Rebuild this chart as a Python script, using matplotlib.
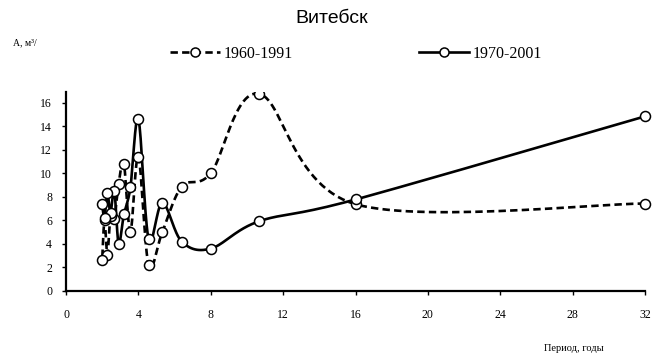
import matplotlib
matplotlib.use("Agg")
import matplotlib.pyplot as plt
import matplotlib.patches as mpatches
import numpy as np

# periods (years) and amplitudes
periods = [32, 16, 10.67, 8, 6.4, 5.33, 4.57, 4, 3.56, 3.2, 2.91, 2.67, 2.46, 2.29, 2.13, 2.0]
a_1960_1991 = [7.43, 7.37, 16.75, 10.0, 8.87, 5.04, 2.18, 11.4, 5.04, 10.8, 9.1, 6.1, 6.4, 3.06, 6.0, 2.63]
a_1970_2001 = [14.83, 7.77, 5.92, 3.6, 4.19, 7.5, 4.4, 14.6, 8.8, 6.5, 4.0, 8.5, 6.6, 8.36, 6.18, 7.39]

labels = ["1960-1991", "1970-2001"]
title = "Витебск"
x_label = "Период, годы"
y_label = "А, м³/"


def smooth(xs, ys, n=30):
    # bezier smoothing like a spreadsheet "smoothed line"
    p = np.column_stack([xs, ys]).astype(float)
    out = [p[0]]
    for i in range(len(p) - 1):
        p0 = p[i - 1] if i > 0 else p[i]
        p3 = p[i + 2] if i + 2 < len(p) else p[i + 1]
        c1 = p[i] + (p[i + 1] - p0) / 6
        c2 = p[i + 1] - (p3 - p[i]) / 6
        t = np.linspace(0, 1, n)[1:, None]
        seg = ((1 - t) ** 3 * p[i] + 3 * (1 - t) ** 2 * t * c1
               + 3 * (1 - t) * t ** 2 * c2 + t ** 3 * p[i + 1])
        out.extend(seg)
    out = np.array(out)
    return out[:, 0], out[:, 1]


fig = plt.figure(figsize=(6.66, 3.56), dpi=100)
ax = fig.add_axes([0.0991, 0.1826, 0.8694, 0.559])

clip = mpatches.Rectangle((-0.05, 0), 1.1, 1.0, transform=ax.transAxes,
                          fill=False, visible=False)
ax.add_patch(clip)

styles = [dict(dashes=(2.8, 1.6)), dict(linestyle="-")]
handles = []
for ys, st, lab in zip([a_1960_1991, a_1970_2001], styles, labels):
    sx, sy = smooth(periods, ys)
    line, = ax.plot(sx, sy, color="black", lw=1.9, **st)
    line.set_clip_path(clip)
    mk, = ax.plot(periods, ys, "o", ms=7.2, mfc="white", mec="black", mew=1.1, zorder=3)
    mk.set_clip_path(clip)
    h, = ax.plot([], [], color="black", lw=1.9, marker="o", ms=6.5,
                 mfc="white", mec="black", mew=1.1, **st)
    h.set_label(lab)
    handles.append(h)

ax.set_xlim(0, 32)
ax.set_ylim(0, 16.9)
ax.set_xticks(np.arange(0, 33, 4))
ax.set_yticks(np.arange(0, 17, 2))
for s in ["top", "right"]:
    ax.spines[s].set_visible(False)
for s in ["left", "bottom"]:
    ax.spines[s].set_linewidth(1.6)
ax.tick_params(labelsize=8.5, length=3, width=1, direction="out")
ax.tick_params(axis="x", pad=10)
ax.tick_params(axis="y", pad=7)
for lbl in ax.get_xticklabels() + ax.get_yticklabels():
    lbl.set_fontfamily("Liberation Serif")

fig.text(0.498, 0.948, title, ha="center", va="center", fontsize=14,
         family="Liberation Sans")
fig.text(0.02, 0.88, y_label, ha="left", va="center", fontsize=7,
         family="Liberation Serif")
fig.text(0.862, 0.02, x_label, ha="center", va="center", fontsize=7.5,
         family="Liberation Serif")

leg = fig.legend(handles=handles, loc="center", bbox_to_anchor=(0.535, 0.849),
                 ncol=2, frameon=False, handlelength=3.1, handletextpad=0.25,
                 columnspacing=7.9, prop={"family": "Liberation Serif", "size": 11.5})

fig.savefig("out.png", dpi=100)
